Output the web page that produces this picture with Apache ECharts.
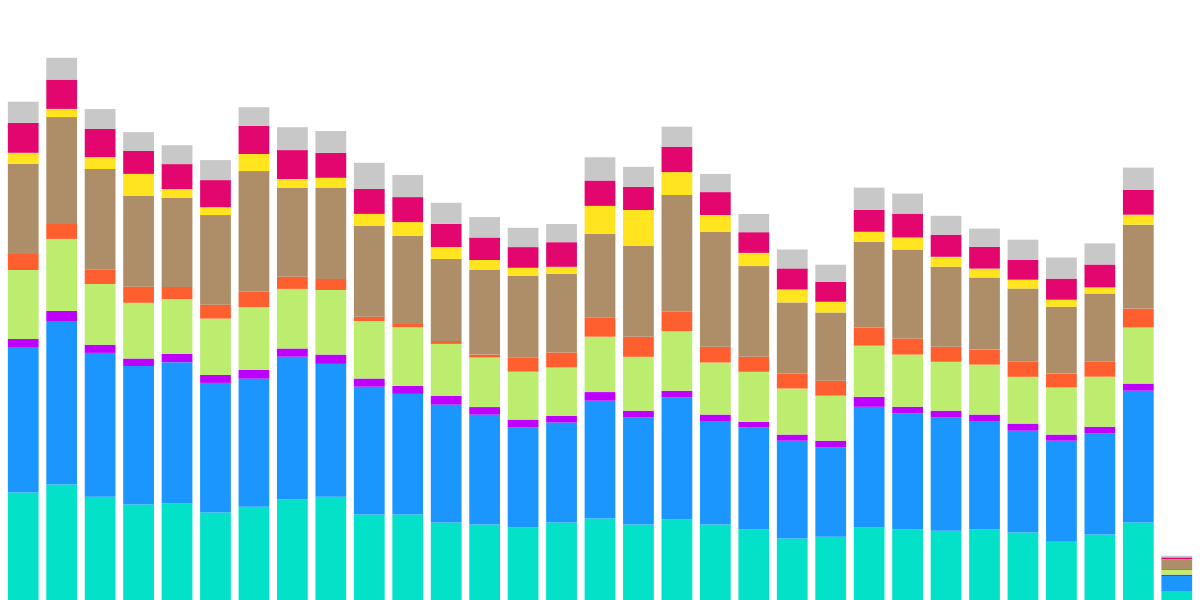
<!DOCTYPE html>
<html>
<head>
<meta charset="utf-8">
<script src="https://cdn.jsdelivr.net/npm/echarts@6/dist/echarts.min.js"></script>
<style>html,body{margin:0;padding:0;background:#fff}#c{width:1200px;height:600px}</style>
</head>
<body>
<div id="c"></div>
<script>
const categories = ["1","2","3","4","5","6","7","8","9","10","11","12","13","14","15","16","17","18","19","20","21","22","23","24","25","26","27","28","29","30","31"];
const teal    = [107.5,115.4,103.2,95.4,96.4,87.5,93.2,100.4,103.2,85.4,85.4,77.5,75.4,72.5,77.5,81.4,75.4,80.4,75.4,70.4,61.4,63.2,72.5,70.4,69.3,70.4,67.5,58.2,65.4,77.5,9];
const blue    = [145.4,163.6,143.9,138.6,141.4,129.6,128.2,142.9,132.9,127.9,120.7,117.9,110,100,100,117.9,107.1,122.1,102.9,102.1,97.9,89.3,120.7,116.1,113.2,107.9,101.8,101.1,101.1,131.8,15];
const purple  = [8.2,10,8.2,7.5,8.2,7.9,8.9,8.2,9.3,8.2,7.9,8.6,7.5,7.9,6.8,8.6,6.8,6.8,7.1,5.7,6.1,6.8,10,6.8,6.8,7.1,7.1,6.1,6.8,7.1,1.3];
const green   = [68.9,72.1,60.7,55.7,55,56.4,62.5,59.6,64.6,57.5,58.9,52.1,49.6,47.9,48.2,55.4,53.9,59.6,52.1,50,46.1,45,51.1,52.1,48.9,50,46.8,47.1,50,56.1,4.7];
const orange  = [16.1,15,14.3,16.1,12.1,13.9,15.4,12.1,11.1,4.3,3.2,2.9,2.9,14.3,15,19.3,20,19.3,15.7,15,15,15,18.2,16.1,15,15,15,13.9,15,18.9,1];
const tan     = [90,106.8,100.7,90.7,88.9,89.6,120.7,88.9,91.1,90.7,87.9,82.1,84.6,81.4,78.6,83.6,90.7,116.8,115,90.7,71.1,68.2,85.7,88.9,80,72.1,73.2,66.8,68.2,83.9,9.3];
const yellow  = [11.1,8.2,11.8,22.1,8.9,7.9,17.1,8.9,10,12.1,13.9,11.8,10,8.2,7.1,27.9,36.1,22.9,16.8,13.2,12.9,10.7,10,12.1,10,8.9,8.9,7.1,6.1,10,0.3];
const magenta = [30,29.3,28.2,22.9,25,27.1,28.2,28.9,25,25,25,23.2,22.5,20.7,24.6,25.4,23.2,25.4,22.9,20.7,21.1,20,22.1,23.9,22.1,21.8,20,21.1,22.9,25,2];
const gray    = [21.1,21.8,20,18.9,18.9,20,18.6,22.9,21.8,26.1,22.1,21.1,20.4,19.3,18.2,23.2,20,20,18.2,18.2,18.9,17.1,22.1,20,18.9,18.2,20,21.1,21.1,22.1,1.7];

const seriesDefs = [
  ["teal", teal, "#03e2c9"],
  ["blue", blue, "#1b96ff"],
  ["purple", purple, "#bd00ff"],
  ["green", green, "#bced6f"],
  ["orange", orange, "#ff5f2f"],
  ["tan", tan, "#ad8e69"],
  ["yellow", yellow, "#ffe41f"],
  ["magenta", magenta, "#e3066e"],
  ["gray", gray, "#c8c8c8"]
];

const chart = echarts.init(document.getElementById('c'), null, {renderer: 'canvas'});
chart.setOption({
  animation: false,
  grid: {left: 4, right: 4, top: 0, bottom: 0},
  xAxis: {type: 'category', data: categories, show: false},
  yAxis: {type: 'value', min: 0, max: 600, show: false},
  series: seriesDefs.map(([name, data, color]) => ({
    name, type: 'bar', stack: 'total', data,
    barCategoryGap: '20%',
    itemStyle: {color}
  }))
});
</script>
</body>
</html>
